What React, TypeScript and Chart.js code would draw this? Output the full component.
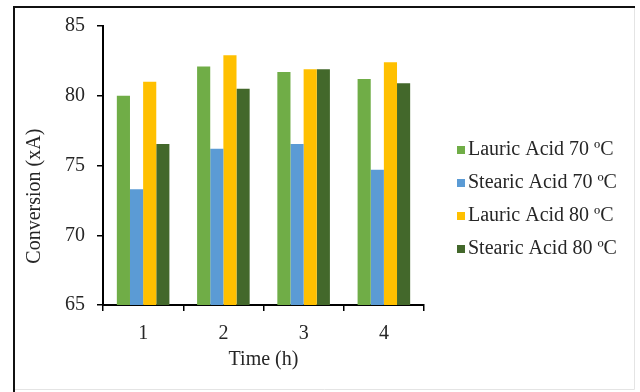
import React, { useEffect, useRef } from "react";
import { Chart, registerables } from "chart.js";

Chart.register(...registerables);

const categories = ["1", "2", "3", "4"];
const lauric70 = [80.0, 82.1, 81.7, 81.2];
const stearic70 = [73.3, 76.2, 76.55, 74.7];
const lauric80 = [81.0, 82.9, 81.9, 82.4];
const stearic80 = [76.55, 80.5, 81.9, 80.9];
const seriesLabels = [
  "Lauric Acid 70 ºC",
  "Stearic Acid 70 ºC",
  "Lauric Acid 80 ºC",
  "Stearic Acid 80 ºC",
];
const seriesColors = ["#70AD47", "#5B9BD5", "#FFC000", "#43682B"];
const yMin = 65;
const yMax = 85;
const yStep = 5;
const xTitle = "Time (h)";
const yTitle = "Conversion (xA)";

const FONT = '"Liberation Serif", "Times New Roman", serif';
const TEXT = "#262626";

const framePlugin = {
  id: "framePlugin",
  beforeDraw(chart: any) {
    const ctx = chart.ctx;
    ctx.save();
    ctx.fillStyle = "#fff";
    ctx.fillRect(0, 0, chart.width, chart.height);
    ctx.strokeStyle = "#e4e4e4";
    ctx.lineWidth = 1;
    ctx.beginPath();
    ctx.moveTo(634.5, 7);
    ctx.lineTo(634.5, 389.5);
    ctx.lineTo(14, 389.5);
    ctx.stroke();
    ctx.strokeStyle = "#111";
    ctx.lineWidth = 2;
    ctx.beginPath();
    ctx.moveTo(14, 392);
    ctx.lineTo(14, 7);
    ctx.lineTo(635, 7);
    ctx.stroke();
    ctx.restore();
  },
};

const yTitlePlugin = {
  id: "yTitlePlugin",
  afterDraw(chart: any) {
    const ctx = chart.ctx;
    const area = chart.chartArea;
    ctx.save();
    ctx.translate(35, area.top + (area.bottom - area.top) * 0.61);
    ctx.rotate(-Math.PI / 2);
    ctx.font = `20px ${FONT}`;
    ctx.fillStyle = TEXT;
    ctx.textAlign = "center";
    ctx.textBaseline = "middle";
    ctx.fillText(yTitle, 0, 0);
    ctx.restore();
  },
};

const legendPlugin = {
  id: "sideLegend",
  afterDraw(chart: any) {
    const ctx = chart.ctx;
    const area = chart.chartArea;
    const sets = chart.data.datasets;
    const rowGap = 33;
    const boxSize = 8;
    const boxX = area.right + 33;
    const textX = boxX + 11;
    const firstY = (area.top + chart.height - 21) / 2 + 1 - ((sets.length - 1) * rowGap) / 2;
    ctx.save();
    ctx.font = `20px ${FONT}`;
    ctx.textAlign = "left";
    ctx.textBaseline = "middle";
    sets.forEach((ds: any, i: number) => {
      const cy = firstY + i * rowGap;
      ctx.fillStyle = ds.backgroundColor;
      ctx.fillRect(boxX, cy - boxSize / 2, boxSize, boxSize);
      ctx.fillStyle = TEXT;
      ctx.fillText(ds.label, textX, cy);
    });
    ctx.restore();
  },
};

export default function App() {
  const ref = useRef<HTMLCanvasElement | null>(null);

  useEffect(() => {
    if (!ref.current) return;
    const series = [lauric70, stearic70, lauric80, stearic80];
    const chart = new Chart(ref.current, {
      type: "bar",
      data: {
        labels: categories,
        datasets: series.map((d, i) => ({
          label: seriesLabels[i],
          data: d,
          backgroundColor: seriesColors[i],
          borderWidth: 0,
          categoryPercentage: 0.655,
          barPercentage: 1,
        })),
      },
      options: {
        animation: false,
        responsive: false,
        devicePixelRatio: 1,
        layout: { padding: { left: 53, top: 26, bottom: 29, right: 216 } },
        plugins: {
          tooltip: { enabled: false },
          legend: { display: false },
        },
        scales: {
          x: {
            grid: {
              display: true,
              drawOnChartArea: false,
              drawTicks: true,
              tickLength: 6,
              color: "#000",
              lineWidth: 1.5,
              offset: true,
            },
            border: { display: true, color: "#000", width: 2 },
            ticks: { color: TEXT, padding: 11, font: { family: FONT, size: 20 } },
            title: {
              display: true,
              text: xTitle,
              color: TEXT,
              padding: 0,
              font: { family: FONT, size: 20, lineHeight: 0.3 },
            },
          },
          y: {
            min: yMin,
            max: yMax,
            grid: {
              display: true,
              drawOnChartArea: false,
              drawTicks: true,
              tickLength: 6,
              color: "#000",
              lineWidth: 1.5,
            },
            border: { display: true, color: "#000", width: 2 },
            ticks: {
              stepSize: yStep,
              color: TEXT,
              padding: 12,
              font: { family: FONT, size: 20 },
            },
          },
        },
      },
      plugins: [framePlugin, yTitlePlugin, legendPlugin],
    } as any);
    return () => chart.destroy();
  }, []);

  return (
    <div style={{ position: "fixed", left: 0, top: 0, width: 640, height: 392, background: "#fff" }}>
      <canvas
        ref={ref}
        width={640}
        height={392}
        style={{ position: "absolute", left: 0, top: 0 }}
      />
    </div>
  );
}
